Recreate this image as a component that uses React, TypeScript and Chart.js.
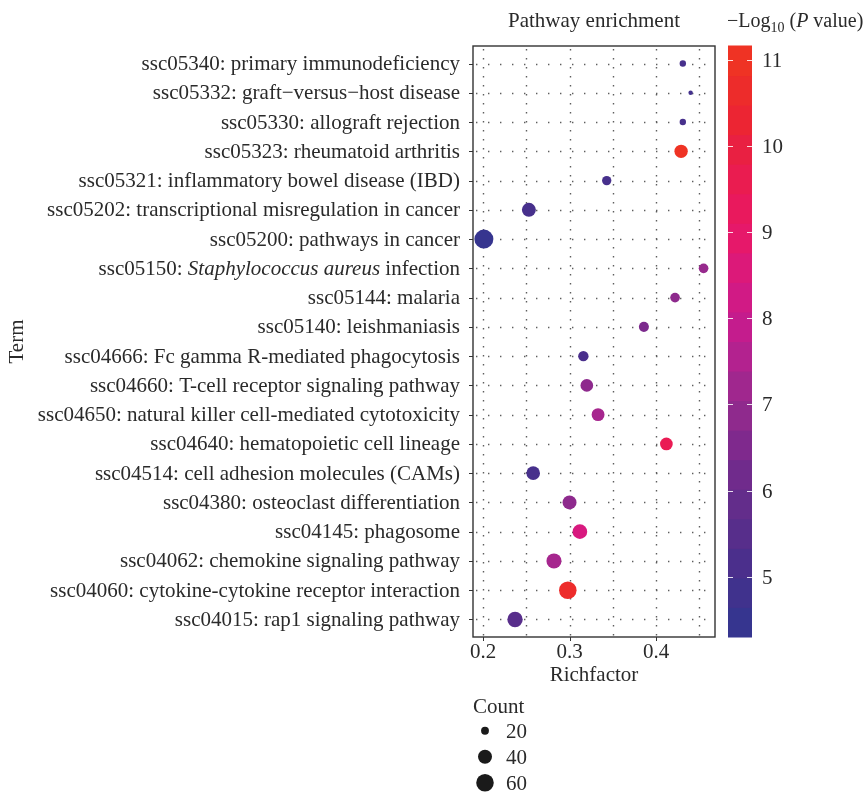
import { useEffect, useRef } from "react";
import { Chart, registerables } from "chart.js";

Chart.register(...registerables);

// ---- data (top row first) ----
const terms: string[] = [
  "ssc05340: primary immunodeficiency",
  "ssc05332: graft\u2212versus\u2212host disease",
  "ssc05330: allograft rejection",
  "ssc05323: rheumatoid arthritis",
  "ssc05321: inflammatory bowel disease (IBD)",
  "ssc05202: transcriptional misregulation in cancer",
  "ssc05200: pathways in cancer",
  "ssc05150: *Staphylococcus aureus* infection",
  "ssc05144: malaria",
  "ssc05140: leishmaniasis",
  "ssc04666: Fc gamma R-mediated phagocytosis",
  "ssc04660: T-cell receptor signaling pathway",
  "ssc04650: natural killer cell-mediated cytotoxicity",
  "ssc04640: hematopoietic cell lineage",
  "ssc04514: cell adhesion molecules (CAMs)",
  "ssc04380: osteoclast differentiation",
  "ssc04145: phagosome",
  "ssc04062: chemokine signaling pathway",
  "ssc04060: cytokine-cytokine receptor interaction",
  "ssc04015: rap1 signaling pathway",
];
const richFactor: number[] = [
  0.431, 0.44, 0.431, 0.429, 0.343, 0.253, 0.201, 0.455, 0.422, 0.386,
  0.316, 0.32, 0.333, 0.412, 0.258, 0.3, 0.312, 0.282, 0.298, 0.237,
];
const geneCount: number[] = [
  18, 17, 18, 37, 23, 40, 70, 24, 24, 25, 26, 34, 35, 34, 38, 40, 43, 45, 60, 47,
];
const negLog10P: number[] = [
  4.9, 4.8, 4.9, 11.16, 4.9, 4.9, 4.3, 7.0, 6.8, 6.4, 5.0, 6.8, 7.3, 9.6, 4.9,
  6.8, 8.5, 7.3, 10.8, 5.4,
];
const xTickValues: number[] = [0.2, 0.3, 0.4];
const xGridValues: number[] = [0.2, 0.25, 0.3, 0.35, 0.4, 0.45];
const colorTickValues: number[] = [5, 6, 7, 8, 9, 10, 11];
const countLegendValues: number[] = [20, 40, 60];

// ---- style ----
const FONT = '"Liberation Serif", "Times New Roman", serif';
const FS = 21;
const TEXT = "#2a2a2a";
const palette: [number, string][] = [
  [0.0, "#36358f"],
  [0.102, "#4a2f8c"],
  [0.175, "#5b2e8b"],
  [0.248, "#6c2c8c"],
  [0.321, "#80298d"],
  [0.394, "#972a8d"],
  [0.466, "#b0238f"],
  [0.539, "#c81b8c"],
  [0.612, "#d8197f"],
  [0.685, "#e6186a"],
  [0.758, "#ea1a58"],
  [0.831, "#e91f45"],
  [0.904, "#ec2630"],
  [1.0, "#ef3324"],
];
const R_MIN = 2.2;
const R_MAX = 9.5;

const cMin = Math.min(...negLog10P);
const cMax = Math.max(...negLog10P);
const sMin = Math.min(...geneCount);
const sMax = Math.max(...geneCount);

function hexToRgb(h: string): number[] {
  const n = parseInt(h.slice(1), 16);
  return [(n >> 16) & 255, (n >> 8) & 255, n & 255];
}
function colorFor(v: number): string {
  let t = (v - cMin) / (cMax - cMin);
  t = Math.max(0, Math.min(1, t));
  for (let i = 0; i < palette.length - 1; i++) {
    const [t0, c0] = palette[i];
    const [t1, c1] = palette[i + 1];
    if (t <= t1) {
      const f = (t - t0) / (t1 - t0);
      const a = hexToRgb(c0);
      const b = hexToRgb(c1);
      const m = a.map((x, k) => Math.round(x + (b[k] - x) * f));
      return `rgb(${m[0]},${m[1]},${m[2]})`;
    }
  }
  return palette[palette.length - 1][1];
}
function radiusFor(c: number): number {
  const t = Math.max(0, (c - sMin) / (sMax - sMin));
  return R_MIN + (R_MAX - R_MIN) * Math.sqrt(t);
}

function parseSegments(label: string): { t: string; i: boolean }[] {
  const parts = label.split("*");
  return parts.map((t, k) => ({ t, i: k % 2 === 1 })).filter((s) => s.t.length > 0);
}

const customDraw = {
  id: "customDraw",
  beforeDatasetsDraw(chart: any) {
    const { ctx, chartArea: a, scales } = chart;
    const x = scales.x;
    const y = scales.y;
    ctx.save();
    ctx.strokeStyle = "#5e5e5e";
    ctx.lineWidth = 1.4;
    ctx.setLineDash([1.4, 7.6]);
    xGridValues.forEach((v) => {
      const px = Math.round(x.getPixelForValue(v)) + 0.5;
      ctx.beginPath();
      ctx.moveTo(px, a.top + 3);
      ctx.lineTo(px, a.bottom);
      ctx.stroke();
    });
    ctx.setLineDash([1.4, 10.6]);
    terms.forEach((_, i) => {
      const py = Math.round(y.getPixelForValue(i)) + 0.5;
      ctx.beginPath();
      ctx.moveTo(a.left + 3, py);
      ctx.lineTo(a.right, py);
      ctx.stroke();
    });
    ctx.restore();
  },
  afterDraw(chart: any) {
    const { ctx, chartArea: a, scales } = chart;
    const x = scales.x;
    const y = scales.y;
    ctx.save();

    // panel border
    ctx.strokeStyle = "#333333";
    ctx.lineWidth = 1.4;
    ctx.strokeRect(a.left, a.top, a.right - a.left, a.bottom - a.top);

    // ticks
    ctx.lineWidth = 1;
    ctx.strokeStyle = "#333333";
    terms.forEach((_, i) => {
      const py = Math.round(y.getPixelForValue(i)) + 0.5;
      ctx.beginPath();
      ctx.moveTo(a.left - 4, py);
      ctx.lineTo(a.left, py);
      ctx.stroke();
    });
    xTickValues.forEach((v) => {
      const px = Math.round(x.getPixelForValue(v)) + 0.5;
      ctx.beginPath();
      ctx.moveTo(px, a.bottom);
      ctx.lineTo(px, a.bottom + 4);
      ctx.stroke();
    });

    // y labels (right aligned, mixed italic)
    ctx.fillStyle = TEXT;
    ctx.textBaseline = "alphabetic";
    ctx.textAlign = "left";
    const endX = a.left - 13;
    terms.forEach((label, i) => {
      const segs = parseSegments(label);
      const widths = segs.map((s) => {
        ctx.font = `${s.i ? "italic " : ""}${FS}px ${FONT}`;
        return ctx.measureText(s.t).width;
      });
      const total = widths.reduce((p, c) => p + c, 0);
      let cx = endX - total;
      const by = y.getPixelForValue(i) + 6.5;
      segs.forEach((s, k) => {
        ctx.font = `${s.i ? "italic " : ""}${FS}px ${FONT}`;
        ctx.fillText(s.t, cx, by);
        cx += widths[k];
      });
    });

    // x tick labels
    ctx.font = `${FS}px ${FONT}`;
    ctx.textAlign = "center";
    xTickValues.forEach((v) => {
      ctx.fillText(v.toFixed(1), x.getPixelForValue(v), a.bottom + 21);
    });
    // x title
    const midX = (a.left + a.right) / 2;
    ctx.fillText("Richfactor", midX, a.bottom + 44);
    // top title
    ctx.fillText("Pathway enrichment", midX, 27);

    // y title
    ctx.save();
    ctx.translate(23, (a.top + a.bottom) / 2);
    ctx.rotate(-Math.PI / 2);
    ctx.textAlign = "center";
    ctx.fillText("Term", 0, 0);
    ctx.restore();

    // colour bar
    const cbL = a.right + 13;
    const cbW = 24;
    const cbTop = a.top;
    const cbBot = a.bottom;
    const cbH = cbBot - cbTop;
    const nbin = 20;
    for (let k = 0; k < nbin; k++) {
      const v = cMin + (k * (cMax - cMin)) / (nbin - 1);
      const y0 = cbBot - (k * cbH) / nbin;
      const y1 = cbBot - ((k + 1) * cbH) / nbin;
      ctx.fillStyle = colorFor(v);
      ctx.fillRect(cbL, y1 - 0.5, cbW, y0 - y1 + 1);
    }
    const cbY = (v: number) => cbBot - ((v - cMin) / (cMax - cMin)) * cbH;
    ctx.strokeStyle = "rgba(255,255,255,0.85)";
    ctx.lineWidth = 1;
    colorTickValues.forEach((v) => {
      const py = Math.round(cbY(v)) + 0.5;
      ctx.beginPath();
      ctx.moveTo(cbL, py);
      ctx.lineTo(cbL + 5, py);
      ctx.moveTo(cbL + cbW - 5, py);
      ctx.lineTo(cbL + cbW, py);
      ctx.stroke();
    });
    ctx.fillStyle = TEXT;
    ctx.font = `${FS}px ${FONT}`;
    ctx.textAlign = "left";
    colorTickValues.forEach((v) => {
      ctx.fillText(String(v), cbL + cbW + 10, cbY(v) + 7);
    });
    // colour bar title: −Log10 (P value)
    const TS = 20;
    let tx = cbL - 1;
    const ty = 27;
    ctx.font = `${TS}px ${FONT}`;
    ctx.fillText("\u2212Log", tx, ty);
    tx += ctx.measureText("\u2212Log").width;
    ctx.font = `14px ${FONT}`;
    ctx.fillText("10", tx, ty + 5);
    tx += ctx.measureText("10").width;
    ctx.font = `${TS}px ${FONT}`;
    ctx.fillText(" (", tx, ty);
    tx += ctx.measureText(" (").width;
    ctx.font = `italic ${TS}px ${FONT}`;
    ctx.fillText("P", tx, ty);
    tx += ctx.measureText("P").width;
    ctx.font = `${TS}px ${FONT}`;
    ctx.fillText(" value)", tx, ty);

    // size legend
    ctx.font = `${FS}px ${FONT}`;
    ctx.fillText("Count", a.left, 713);
    countLegendValues.forEach((c, k) => {
      const cy = 730.7 + k * 26;
      ctx.fillStyle = "#1a1a1a";
      ctx.beginPath();
      ctx.arc(a.left + 12, cy, radiusFor(c), 0, Math.PI * 2);
      ctx.fill();
      ctx.fillStyle = TEXT;
      ctx.fillText(String(c), a.left + 33, cy + 7);
    });

    ctx.restore();
  },
};

export default function App() {
  const canvasRef = useRef<HTMLCanvasElement | null>(null);

  useEffect(() => {
    const canvas = canvasRef.current;
    if (!canvas) return;
    const points = terms.map((_, i) => ({
      x: richFactor[i],
      y: i,
      r: radiusFor(geneCount[i]),
    }));
    const chart = new Chart(canvas, {
      type: "bubble",
      data: {
        datasets: [
          {
            data: points,
            backgroundColor: negLog10P.map((v) => colorFor(v)),
            borderWidth: 0,
            hoverRadius: 0,
            hoverBorderWidth: 0,
          } as any,
        ],
      },
      options: {
        animation: false,
        responsive: false,
        devicePixelRatio: 1,
        events: [],
        layout: { padding: { left: 473, top: 46, right: 153, bottom: 159 } },
        scales: {
          x: { type: "linear", min: 0.1884, max: 0.4682, display: false },
          y: { type: "linear", min: -0.6, max: 19.6, reverse: true, display: false },
        },
        plugins: {
          legend: { display: false },
          tooltip: { enabled: false },
        },
      },
      plugins: [customDraw],
    });
    return () => chart.destroy();
  }, []);

  return (
    <div style={{ position: "absolute", left: 0, top: 0, width: 868, height: 796, background: "#fff" }}>
      <canvas ref={canvasRef} width={868} height={796} style={{ display: "block" }} />
    </div>
  );
}
